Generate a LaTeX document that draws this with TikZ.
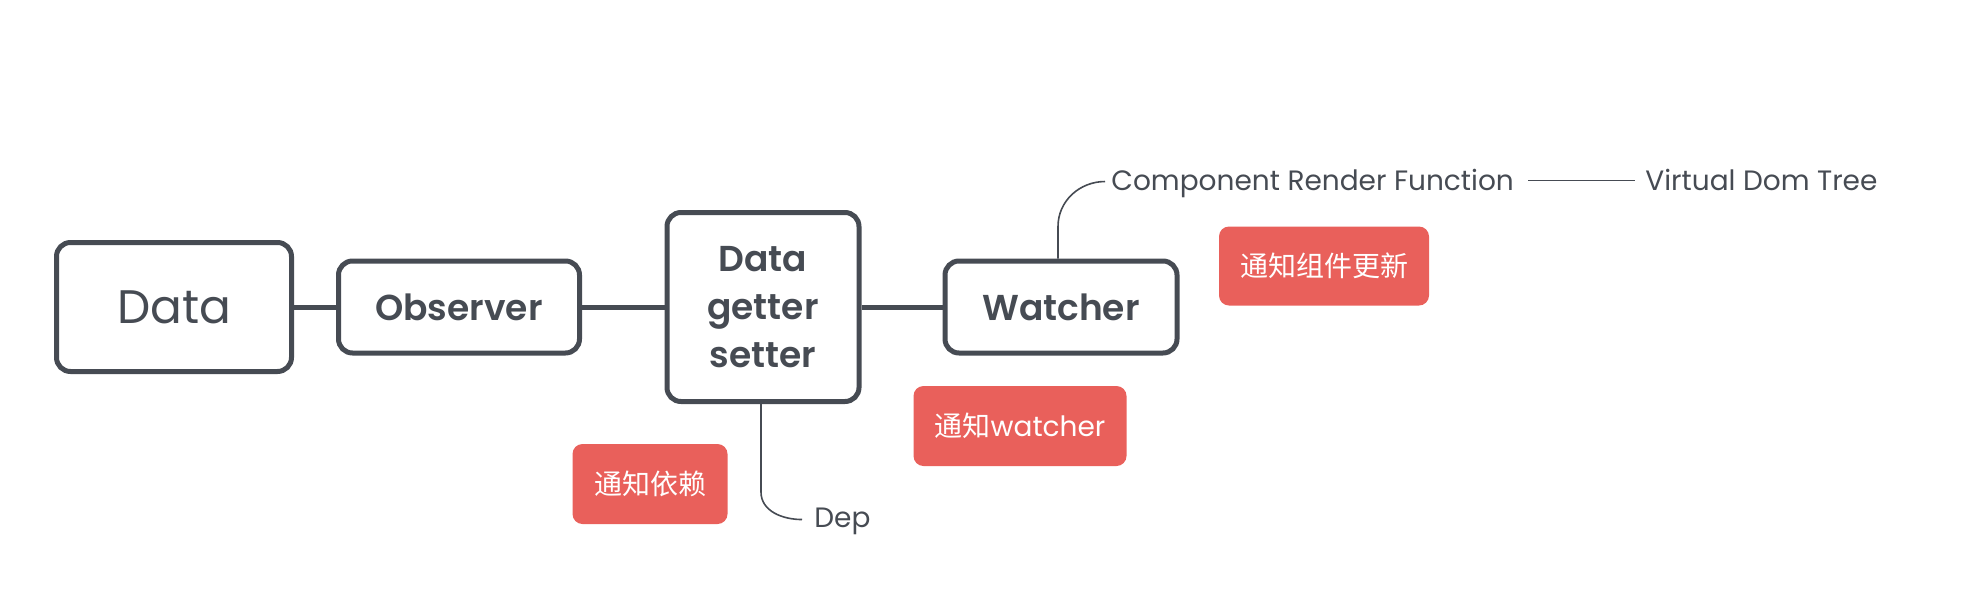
\documentclass[tikz,border=0pt]{standalone}
\usepackage{fontspec}
\setmainfont{Poppins}[BoldFont={Poppins SemiBold}]
\newfontfamily\cjk{Noto Sans CJK SC}
\definecolor{boxgray}{HTML}{464B53}
\definecolor{notered}{HTML}{E9605B}
\begin{document}
\begin{tikzpicture}[x=0.5pt, y=-0.5pt,
    mainbox/.style={draw=boxgray, line width=2.5pt, rounded corners=7pt, fill=white,
      text=boxgray, align=center, inner sep=0pt, font=\bfseries\fontsize{18}{24}\selectfont},
    notebox/.style={fill=notered, rounded corners=5pt, text=white, inner sep=0pt,
      minimum height=40pt, font=\cjk\fontsize{14}{16}\selectfont},
    leaf/.style={text=boxgray, inner sep=0pt, anchor=base west, font=\fontsize{14}{16}\selectfont},
    thickline/.style={draw=boxgray, line width=2.5pt},
    thinline/.style={draw=boxgray, line width=0.8pt}]
  \useasboundingbox (0,0) rectangle (1980,606);

  % main chain
  \node[mainbox, font=\fontsize{23.5}{28}\selectfont, minimum width=117.5pt, minimum height=64.5pt] (data) at (174,307) {Data};
  \node[mainbox, minimum width=120.5pt, minimum height=46pt] (observer) at (459,307) {Observer};
  \node[mainbox, minimum width=96pt, minimum height=94.5pt] (dgs) at (763,307) {Data\\getter\\setter};
  \node[mainbox, minimum width=116pt, minimum height=46pt] (watcher) at (1061,307) {Watcher};
  \draw[thickline] (data) -- (observer);
  \draw[thickline] (observer) -- (dgs);
  \draw[thickline] (dgs) -- (watcher);

  % leaves
  \node[leaf] (crf) at (1111,190) {Component Render Function};
  \node[leaf] (vdt) at (1645,190) {Virtual Dom Tree};
  \node[leaf] (dep) at (814,527) {Dep};
  \draw[thinline] ([xshift=-1.5pt]watcher.north) -- ++(0,-32) to[out=90, in=180] ([xshift=-3pt, yshift=1.5pt]crf.mid west);
  \draw[thinline] ([xshift=7pt, yshift=2pt]crf.mid east) -- ([xshift=-5pt, yshift=2pt]crf.mid east -| vdt.west);
  \draw[thinline] ([xshift=-1pt]dgs.south) -- ++(0,88) to[out=-90, in=180] ([xshift=-6pt, yshift=1pt]dep.mid west);

  % notes
  \node[notebox, minimum width=105pt, minimum height=39.5pt] (notecomp) at (1324,266) {通知组件更新};
  \node[notebox, minimum width=106.5pt] (notewatcher) at (1020,426) {通知{\rmfamily watcher}};
  \node[notebox, minimum width=77.5pt] (notedep) at (650,484) {通知依赖};
\end{tikzpicture}
\end{document}
